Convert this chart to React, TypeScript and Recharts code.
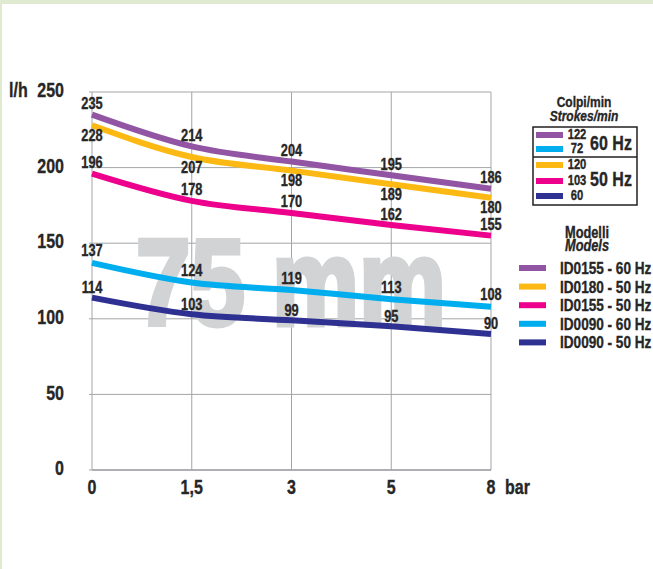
import { LineChart, Line, XAxis, YAxis, CartesianGrid, LabelList, Customized } from "recharts";

// pressione (bar) sull'asse X
const pressioni = ["0", "1,5", "3", "5", "8"];

// portata l/h per modello
const id0155_60 = [235, 214, 204, 195, 186];
const id0180_50 = [228, 207, 198, 189, 180];
const id0155_50 = [196, 178, 170, 162, 155];
const id0090_60 = [137, 124, 119, 113, 108];
const id0090_50 = [114, 103, 99, 95, 90];

const modelli = ["ID0155 - 60 Hz", "ID0180 - 50 Hz", "ID0155 - 50 Hz", "ID0090 - 60 Hz", "ID0090 - 50 Hz"];
const colpiMin = [122, 120, 103, 72, 60];
const colori = ["#9255a3", "#fdb913", "#ec008c", "#00aeef", "#2e3192"];
const yTicks = [0, 50, 100, 150, 200, 250];

const serie = [id0155_60, id0180_50, id0155_50, id0090_60, id0090_50];
const chiavi = ["s0", "s1", "s2", "s3", "s4"];

const data = pressioni.map((p, i) => {
  const row: Record<string, string | number> = { p };
  chiavi.forEach((k, j) => (row[k] = serie[j][i]));
  return row;
});

// etichette sopra la linea, tranne ID0180 (sotto)
const labelDy = [-11, 10, -11, -12, -10];

const FONT = "'Liberation Sans', Arial, sans-serif";
const TXT = "#262626";
const GRID = "#a3a5a8";

// testo "narrow": Liberation Sans compressa in orizzontale
function NText({
  x,
  y,
  size,
  anchor = "middle",
  italic = false,
  children,
}: {
  x: number;
  y: number;
  size: number;
  anchor?: "start" | "middle" | "end";
  italic?: boolean;
  children: React.ReactNode;
}) {
  return (
    <text
      transform={`translate(${x},${y}) scale(0.8,1)`}
      textAnchor={anchor}
      dominantBaseline="central"
      fontFamily={FONT}
      fontWeight="bold"
      fontStyle={italic ? "italic" : "normal"}
      fontSize={size}
      fill={TXT}
      stroke={TXT}
      strokeWidth={0.35}
    >
      {children}
    </text>
  );
}

function Watermark() {
  return (
    <text
      x={291}
      y={325}
      textAnchor="middle"
      fontFamily={FONT}
      fontWeight="bold"
      fontSize={122}
      fill="#d1d3d4"
      stroke="#d1d3d4"
      strokeWidth={5}
      textLength={310}
      lengthAdjust="spacingAndGlyphs"
    >
      75 mm
    </text>
  );
}

function Legende() {
  const box60 = [0, 3];
  const box50 = [1, 2, 4];
  const rowY60 = [135, 149];
  const rowY50 = [165, 181, 196];
  const riga = (i: number, y: number) => (
    <g key={i}>
      <rect x={536} y={y - 3} width={27} height={6} fill={colori[i]} />
      <NText x={577} y={y} size={14}>
        {colpiMin[i]}
      </NText>
    </g>
  );
  return (
    <g>
      <NText x={9} y={90} size={20} anchor="start">
        l/h
      </NText>
      <NText x={505} y={487} size={20} anchor="start">
        bar
      </NText>

      <NText x={584} y={102} size={15}>
        Colpi/min
      </NText>
      <NText x={584} y={116} size={15} italic>
        Strokes/min
      </NText>
      <rect x={533} y={127} width={104} height={78} fill="none" stroke="#231f20" strokeWidth={1.5} />
      <line x1={533} x2={637} y1={157} y2={157} stroke="#231f20" strokeWidth={1.5} />
      {box60.map((i, k) => riga(i, rowY60[k]))}
      {box50.map((i, k) => riga(i, rowY50[k]))}
      <NText x={611} y={143} size={20}>
        60 Hz
      </NText>
      <NText x={611} y={179} size={20}>
        50 Hz
      </NText>

      <NText x={587} y={232} size={16}>
        Modelli
      </NText>
      <NText x={587} y={245} size={16} italic>
        Models
      </NText>
      {modelli.map((m, i) => (
        <g key={m}>
          <rect x={519} y={268 + i * 18.6 - 3} width={27} height={6} fill={colori[i]} />
          <NText x={560} y={268 + i * 18.6} size={17} anchor="start">
            {m}
          </NText>
        </g>
      ))}
    </g>
  );
}

export default function App() {
  return (
    <div style={{ position: "absolute", left: 0, top: 0, width: 653, height: 569, background: "#fff" }}>
      <div style={{ position: "absolute", left: 0, top: 0, width: 653, height: 4, background: "#e0ead0" }} />
      <div style={{ position: "absolute", left: 0, top: 0, width: 2, height: 569, background: "#e0ead0" }} />
      <LineChart
        width={653}
        height={569}
        data={data}
        margin={{ top: 92, right: 162, bottom: 69, left: 0 }}
        style={{ position: "absolute", left: 0, top: 0 }}
      >
        <Customized component={Watermark} />
        <CartesianGrid stroke={GRID} strokeWidth={1} />
        <XAxis
          dataKey="p"
          height={30}
          axisLine={{ stroke: GRID, strokeWidth: 1.5 }}
          tickLine={false}
          tickSize={0}
          tickMargin={17}
          tick={(props: any) => (
            <NText x={props.x} y={props.y} size={20}>
              {props.payload.value}
            </NText>
          )}
        />
        <YAxis
          width={92}
          domain={[0, 250]}
          ticks={yTicks}
          axisLine={false}
          tickLine={{ stroke: GRID }}
          tickSize={3}
          tickMargin={25}
          tick={(props: any) => (
            <NText x={props.x} y={props.y - 1.5} size={20} anchor="end">
              {props.payload.value}
            </NText>
          )}
        />
        {chiavi.map((k, i) => (
          <Line
            key={k}
            dataKey={k}
            name={modelli[i]}
            type="monotone"
            stroke={colori[i]}
            strokeWidth={6}
            dot={false}
            isAnimationActive={false}
          >
            <LabelList
              dataKey={k}
              content={(props: any) => (
                <NText x={props.x} y={props.y + labelDy[i]} size={16}>
                  {props.value}
                </NText>
              )}
            />
          </Line>
        ))}
        <Customized component={Legende} />
      </LineChart>
    </div>
  );
}
